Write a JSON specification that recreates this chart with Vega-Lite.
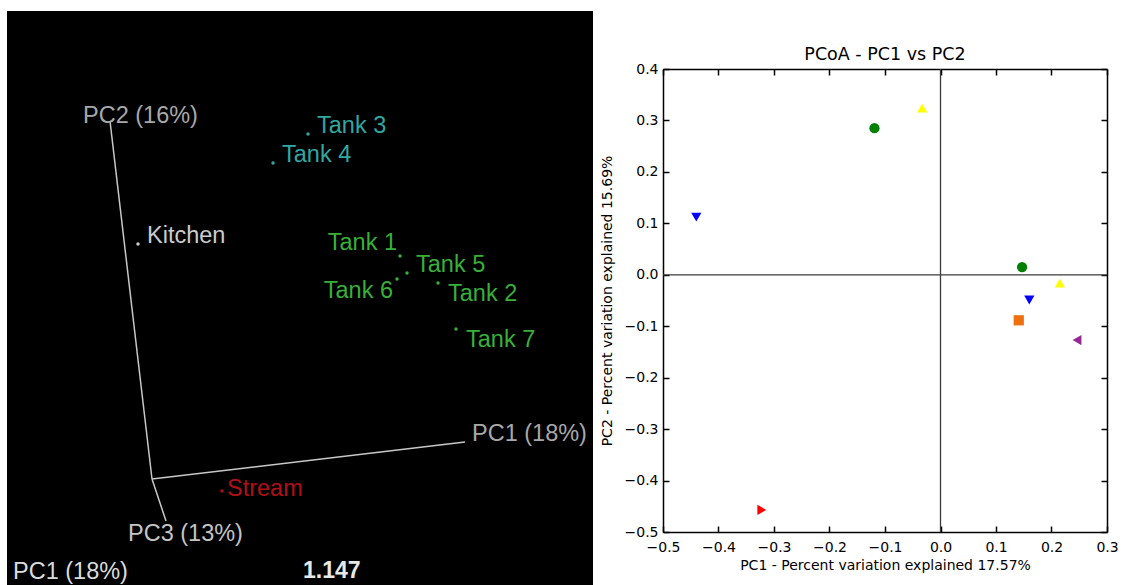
{
  "$schema": "https://vega.github.io/schema/vega-lite/v6.json",
  "background": "white",
  "padding": {"left": 7, "top": 10, "right": 0, "bottom": 0},
  "spacing": 7,
  "resolve": {"scale": {"color": "independent", "shape": "independent", "x": "independent", "y": "independent"}},
  "config": {"font": "DejaVu Sans"},
  "datasets": {
    "panel3d": [
      {"x": -1.45, "x2": 4.41, "y": -1.07, "y2": 4.68}
    ],
    "axes3d": [
      {"axis": "PC1", "x": 0, "y": 0, "x2": 3.13, "y2": 0.37},
      {"axis": "PC2", "x": 0, "y": 0, "x2": -0.42, "y2": 3.58},
      {"axis": "PC3", "x": 0, "y": 0, "x2": 0.14, "y2": -0.42}
    ],
    "samples3d": [
      {"sample": "Tank 3", "cluster": "A", "x": 1.56, "y": 3.45},
      {"sample": "Tank 4", "cluster": "A", "x": 1.21, "y": 3.16},
      {"sample": "Kitchen", "cluster": "Kitchen", "x": -0.14, "y": 2.35},
      {"sample": "Tank 1", "cluster": "B", "x": 2.48, "y": 2.23},
      {"sample": "Tank 5", "cluster": "B", "x": 2.55, "y": 2.06},
      {"sample": "Tank 6", "cluster": "B", "x": 2.45, "y": 2.0},
      {"sample": "Tank 2", "cluster": "B", "x": 2.86, "y": 1.96},
      {"sample": "Tank 7", "cluster": "B", "x": 3.04, "y": 1.5},
      {"sample": "Stream", "cluster": "Stream", "x": 0.7, "y": -0.12}
    ],
    "notes3d": [
      {"text": "PC2 (16%)", "kind": "axis", "x": -0.69, "y": 3.63},
      {"text": "PC1 (18%)", "kind": "axis", "x": 3.2, "y": 0.45},
      {"text": "PC3 (13%)", "kind": "axis3", "x": -0.24, "y": -0.55},
      {"text": "PC1 (18%)", "kind": "footer", "x": -1.39, "y": -0.93},
      {"text": "1.147", "kind": "value", "x": 1.51, "y": -0.92}
    ],
    "pcoa": [
      {"group": "1", "PC1": -0.119, "PC2": 0.285},
      {"group": "1", "PC1": 0.147, "PC2": 0.015},
      {"group": "2", "PC1": -0.033, "PC2": 0.324},
      {"group": "2", "PC1": 0.215, "PC2": -0.016},
      {"group": "3", "PC1": -0.44, "PC2": 0.112},
      {"group": "3", "PC1": 0.16, "PC2": -0.049},
      {"group": "4", "PC1": 0.141, "PC2": -0.0885},
      {"group": "5", "PC1": 0.246, "PC2": -0.127},
      {"group": "6", "PC1": -0.322, "PC2": -0.457}
    ]
  },
  "hconcat": [
    {
      "width": 586,
      "height": 517,
      "view": {"stroke": null},
      "encoding": {
        "x": {"field": "x", "type": "quantitative", "scale": {"domain": [-1.45, 4.41], "nice": false, "zero": false}, "axis": null},
        "y": {"field": "y", "type": "quantitative", "scale": {"domain": [-1.07, 4.10], "nice": false, "zero": false}, "axis": null}
      },
      "layer": [
        {
          "data": {"name": "panel3d"},
          "mark": {"type": "rect", "color": "#000000", "opacity": 1},
          "encoding": {"x2": {"field": "x2"}, "y2": {"field": "y2"}}
        },
        {
          "data": {"name": "axes3d"},
          "mark": {"type": "rule", "color": "#c8c8c8", "strokeWidth": 1.5},
          "encoding": {"x2": {"field": "x2"}, "y2": {"field": "y2"}}
        },
        {
          "data": {"name": "samples3d"},
          "mark": {"type": "circle", "size": 12, "opacity": 1},
          "encoding": {
            "color": {"field": "cluster", "type": "nominal", "legend": null,
              "scale": {"domain": ["A", "B", "Kitchen", "Stream"], "range": ["#30a8a0", "#38b038", "#cccccc", "#b01018"]}}
          }
        },
        {
          "data": {"name": "samples3d"},
          "transform": [{"filter": {"field": "sample", "oneOf": ["Tank 3", "Tank 4", "Kitchen", "Tank 5"]}}],
          "mark": {"type": "text", "align": "left", "baseline": "middle", "dx": 9, "dy": -8, "font": "Liberation Sans", "fontSize": 23.5},
          "encoding": {"text": {"field": "sample"}, "color": {"field": "cluster", "type": "nominal", "legend": null}}
        },
        {
          "data": {"name": "samples3d"},
          "transform": [{"filter": {"field": "sample", "oneOf": ["Tank 2", "Tank 7"]}}],
          "mark": {"type": "text", "align": "left", "baseline": "middle", "dx": 10, "dy": 11, "font": "Liberation Sans", "fontSize": 23.5},
          "encoding": {"text": {"field": "sample"}, "color": {"field": "cluster", "type": "nominal", "legend": null}}
        },
        {
          "data": {"name": "samples3d"},
          "transform": [{"filter": {"field": "sample", "equal": "Stream"}}],
          "mark": {"type": "text", "align": "left", "baseline": "middle", "dx": 5, "dy": -2, "font": "Liberation Sans", "fontSize": 23.5},
          "encoding": {"text": {"field": "sample"}, "color": {"field": "cluster", "type": "nominal", "legend": null}}
        },
        {
          "data": {"name": "samples3d"},
          "transform": [{"filter": {"field": "sample", "equal": "Tank 1"}}],
          "mark": {"type": "text", "align": "right", "baseline": "middle", "dx": -3, "dy": -13, "font": "Liberation Sans", "fontSize": 23.5},
          "encoding": {"text": {"field": "sample"}, "color": {"field": "cluster", "type": "nominal", "legend": null}}
        },
        {
          "data": {"name": "samples3d"},
          "transform": [{"filter": {"field": "sample", "equal": "Tank 6"}}],
          "mark": {"type": "text", "align": "right", "baseline": "middle", "dx": -4, "dy": 12, "font": "Liberation Sans", "fontSize": 23.5},
          "encoding": {"text": {"field": "sample"}, "color": {"field": "cluster", "type": "nominal", "legend": null}}
        },
        {
          "data": {"name": "notes3d"},
          "transform": [{"filter": {"field": "kind", "equal": "axis"}}],
          "mark": {"type": "text", "align": "left", "baseline": "middle", "font": "Liberation Sans", "fontSize": 23.5, "color": "#a8a8a8"},
          "encoding": {"text": {"field": "text"}}
        },
        {
          "data": {"name": "notes3d"},
          "transform": [{"filter": {"field": "kind", "equal": "axis3"}}],
          "mark": {"type": "text", "align": "left", "baseline": "middle", "font": "Liberation Sans", "fontSize": 23.5, "color": "#c4c4c4"},
          "encoding": {"text": {"field": "text"}}
        },
        {
          "data": {"name": "notes3d"},
          "transform": [{"filter": {"field": "kind", "equal": "footer"}}],
          "mark": {"type": "text", "align": "left", "baseline": "middle", "font": "Liberation Sans", "fontSize": 23.5, "color": "#dcdcdc"},
          "encoding": {"text": {"field": "text"}}
        },
        {
          "data": {"name": "notes3d"},
          "transform": [{"filter": {"field": "kind", "equal": "value"}}],
          "mark": {"type": "text", "align": "left", "baseline": "middle", "font": "Liberation Sans", "fontSize": 23, "fontWeight": "bold", "color": "#e8e8e8"},
          "encoding": {"text": {"field": "text"}}
        }
      ]
    },
    {
      "width": 444,
      "height": 463,
      "view": {"stroke": null, "fill": "white"},
      "title": {"text": ["", "PCoA - PC1 vs PC2"], "font": "DejaVu Sans", "fontSize": 17.5, "fontWeight": "normal", "color": "#000000", "lineHeight": 31, "offset": -1},
      "resolve": {"axis": {"x": "independent", "y": "independent"}},
      "layer": [
        {
          "data": {"values": [{"ref": 0}]},
          "mark": {"type": "rule", "color": "#3a3a3a", "strokeWidth": 1.3},
          "encoding": {"x": {"field": "ref", "type": "quantitative", "scale": {"domain": [-0.5, 0.3], "nice": false, "zero": false}, "axis": null}}
        },
        {
          "data": {"values": [{"ref": 0}]},
          "mark": {"type": "rule", "color": "#3a3a3a", "strokeWidth": 1.3},
          "encoding": {"y": {"field": "ref", "type": "quantitative", "scale": {"domain": [-0.5, 0.4], "nice": false, "zero": false}, "axis": null}}
        },
        {
          "data": {"name": "pcoa"},
          "mark": {"type": "point", "filled": true, "opacity": 1, "size": 105, "strokeWidth": 0},
          "encoding": {
            "x": {"field": "PC1", "type": "quantitative", "scale": {"domain": [-0.5, 0.3], "nice": false, "zero": false},
              "axis": {"orient": "bottom", "values": [-0.5, -0.4, -0.3, -0.2, -0.1, 0, 0.1, 0.2, 0.3], "format": ".1f", "grid": false,
                "tickSize": -6, "tickColor": "#000", "tickWidth": 1.5, "domainColor": "#000", "domainWidth": 1.5,
                "labelFont": "DejaVu Sans", "labelFontSize": 14, "labelColor": "#000", "labelPadding": 14, "labelFlush": false, "labelOverlap": false,
                "title": "PC1 - Percent variation explained 17.57%", "titleFont": "DejaVu Sans", "titleFontSize": 14, "titleFontWeight": "normal", "titleColor": "#000", "titlePadding": 4}},
            "y": {"field": "PC2", "type": "quantitative", "scale": {"domain": [-0.5, 0.4], "nice": false, "zero": false},
              "axis": {"orient": "left", "values": [-0.5, -0.4, -0.3, -0.2, -0.1, 0, 0.1, 0.2, 0.3, 0.4], "format": ".1f", "grid": false,
                "tickSize": -6, "tickColor": "#000", "tickWidth": 1.5, "domainColor": "#000", "domainWidth": 1.5,
                "labelFont": "DejaVu Sans", "labelFontSize": 14, "labelColor": "#000", "labelPadding": 11, "labelFlush": false, "labelOverlap": false,
                "title": "PC2 - Percent variation explained 15.69%", "titleFont": "DejaVu Sans", "titleFontSize": 14, "titleFontWeight": "normal", "titleColor": "#000", "titlePadding": 10}},
            "color": {"field": "group", "type": "nominal", "legend": null,
              "scale": {"domain": ["1", "2", "3", "4", "5", "6"], "range": ["#008000", "#ffff00", "#0000ff", "#f07010", "#962896", "#ff0000"]}},
            "shape": {"field": "group", "type": "nominal", "legend": null,
              "scale": {"domain": ["1", "2", "3", "4", "5", "6"], "range": ["circle", "triangle-up", "triangle-down", "square", "triangle-left", "triangle-right"]}}
          }
        },
        {
          "data": {"name": "pcoa"},
          "mark": {"type": "point", "opacity": 0},
          "encoding": {
            "x": {"field": "PC1", "type": "quantitative", "scale": {"domain": [-0.5, 0.3], "nice": false, "zero": false},
              "axis": {"orient": "top", "values": [-0.5, -0.4, -0.3, -0.2, -0.1, 0, 0.1, 0.2, 0.3], "labels": false, "grid": false, "title": null,
                "tickSize": -6, "tickColor": "#000", "tickWidth": 1.5, "domainColor": "#000", "domainWidth": 1.5}},
            "y": {"field": "PC2", "type": "quantitative", "scale": {"domain": [-0.5, 0.4], "nice": false, "zero": false},
              "axis": {"orient": "right", "values": [-0.5, -0.4, -0.3, -0.2, -0.1, 0, 0.1, 0.2, 0.3, 0.4], "labels": false, "grid": false, "title": null,
                "tickSize": -6, "tickColor": "#000", "tickWidth": 1.5, "domainColor": "#000", "domainWidth": 1.5}}
          }
        }
      ]
    }
  ]
}
